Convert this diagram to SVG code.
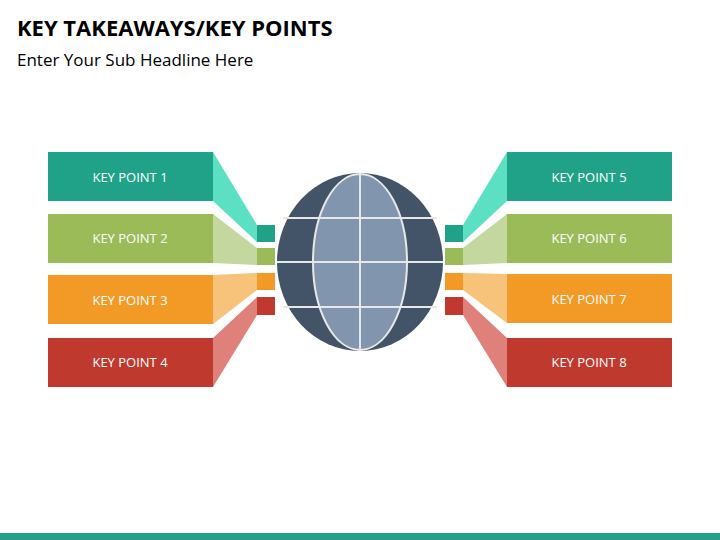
<svg xmlns="http://www.w3.org/2000/svg" width="720" height="540" viewBox="0 0 720 540">
<style>
.t{font-family:"Open Sans","Liberation Sans",sans-serif;font-size:13px;fill:#fff;text-anchor:middle}
.g{stroke:#e8e8e8;stroke-width:2;fill:none}
</style>
<rect width="720" height="540" fill="#fff"/>
<text x="17" y="36" font-family="'Open Sans','Liberation Sans',sans-serif" font-weight="bold" font-size="22" fill="#000">KEY TAKEAWAYS/KEY POINTS</text>
<text x="17" y="66" font-family="'Open Sans','Liberation Sans',sans-serif" font-size="17" fill="#000">Enter Your Sub Headline Here</text>
<rect x="0" y="533" width="720" height="7" fill="#23a088"/>
<g id="connectors">
<polygon points="213,152 257,225 257,242 213,201" fill="#5ce0c4"/>
<polygon points="213,214 257,248 257,265 213,263" fill="#c4d79e"/>
<polygon points="213,275 257,273 257,290 213,324" fill="#f7c27a"/>
<polygon points="213,338 257,297 257,315 213,387" fill="#e0807a"/>
<polygon points="507,152 463,225 463,242 507,201" fill="#5ce0c4"/>
<polygon points="507,214 463,248 463,265 507,263" fill="#c4d79e"/>
<polygon points="507,274 463,273 463,290 507,323" fill="#f7c27a"/>
<polygon points="507,338 463,297 463,315 507,387" fill="#e0807a"/>
<rect x="257" y="225" width="18" height="17" fill="#1fa287"/>
<rect x="257" y="248" width="18" height="17" fill="#9bbb59"/>
<rect x="257" y="273" width="18" height="17" fill="#f39a26"/>
<rect x="257" y="297" width="18" height="18" fill="#c0392f"/>
<rect x="445" y="225" width="18" height="17" fill="#1fa287"/>
<rect x="445" y="248" width="18" height="17" fill="#9bbb59"/>
<rect x="445" y="273" width="18" height="17" fill="#f39a26"/>
<rect x="445" y="297" width="18" height="18" fill="#c0392f"/>
</g>
<g id="globe">
<ellipse cx="360" cy="262" rx="83" ry="89" fill="#435368"/>
<ellipse cx="360" cy="262" rx="47" ry="88" fill="#8196ae" stroke="#e8e8e8" stroke-width="2"/>
<line class="g" x1="283" y1="218" x2="437" y2="218"/>
<line class="g" x1="277" y1="262" x2="443" y2="262"/>
<line class="g" x1="283" y1="307" x2="437" y2="307"/>
<line class="g" x1="360" y1="173" x2="360" y2="351"/>
</g>
<g id="kp1"><rect x="48" y="152" width="165" height="49" fill="#1fa287"/><text class="t" x="130" y="182">KEY POINT 1</text></g>
<g id="kp2"><rect x="48" y="214" width="165" height="49" fill="#9bbb59"/><text class="t" x="130" y="243">KEY POINT 2</text></g>
<g id="kp3"><rect x="48" y="275" width="165" height="49" fill="#f39a26"/><text class="t" x="130" y="305">KEY POINT 3</text></g>
<g id="kp4"><rect x="48" y="338" width="165" height="49" fill="#c0392f"/><text class="t" x="130" y="367">KEY POINT 4</text></g>
<g id="kp5"><rect x="507" y="152" width="165" height="49" fill="#1fa287"/><text class="t" x="589" y="182">KEY POINT 5</text></g>
<g id="kp6"><rect x="507" y="214" width="165" height="49" fill="#9bbb59"/><text class="t" x="589" y="243">KEY POINT 6</text></g>
<g id="kp7"><rect x="507" y="274" width="165" height="49" fill="#f39a26"/><text class="t" x="589" y="304">KEY POINT 7</text></g>
<g id="kp8"><rect x="507" y="338" width="165" height="49" fill="#c0392f"/><text class="t" x="589" y="367">KEY POINT 8</text></g>
</svg>
